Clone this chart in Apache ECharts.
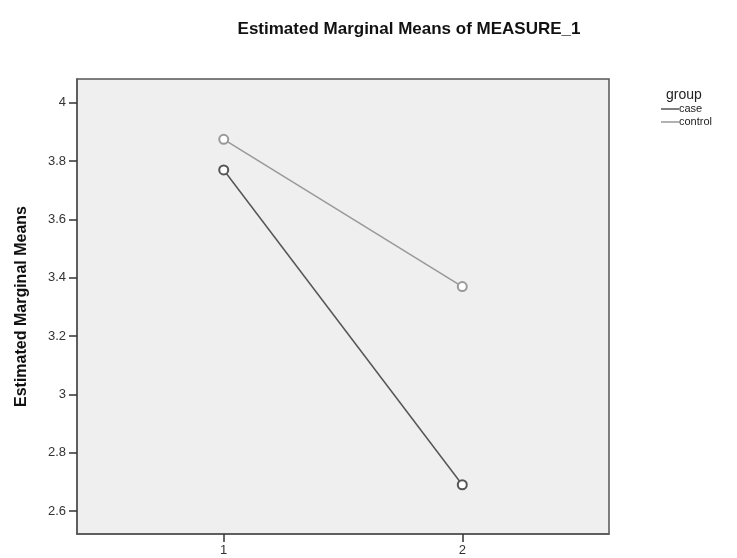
<!DOCTYPE html>
<html>
<head>
<meta charset="utf-8">
<script src="https://cdn.jsdelivr.net/npm/echarts@6/dist/echarts.min.js"></script>
<style>
  html, body { margin: 0; padding: 0; background: #fff; }
  #chart { width: 737px; height: 558px; }
</style>
</head>
<body>
<div id="chart"></div>
<script>
const measures = [1, 2];
const caseMeans = [3.77, 2.69];
const controlMeans = [3.875, 3.37];
const yTicks = [2.6, 2.8, 3, 3.2, 3.4, 3.6, 3.8, 4];

const font = 'Liberation Sans, Arial, sans-serif';

function toPairs(values) {
    return measures.map((m, i) => [m, values[i]]);
}

const lineOptions = {
    type: 'line',
    symbol: 'emptyCircle',
    symbolSize: 9,
    lineStyle: { width: 1.5 },
    itemStyle: { borderWidth: 1.5 }
};

let chartDom = document.getElementById('chart');
let myChart = echarts.init(chartDom);

let option = {
    animation: false,
    textStyle: { fontFamily: font },
    title: {
        text: 'Estimated Marginal Means of MEASURE_1',
        left: 404,
        top: 16,
        textAlign: 'center',
        textStyle: { fontSize: 17, fontWeight: 'bold', color: '#111', fontFamily: font }
    },
    graphic: [
        { type: 'text', left: 666, top: 88, style: { text: 'group', fontSize: 14, fill: '#222', fontFamily: font } },
        { type: 'line', shape: { x1: 661, y1: 109, x2: 679, y2: 109 }, style: { stroke: '#555', lineWidth: 1.5 } },
        { type: 'text', left: 679, top: 103, style: { text: 'case', fontSize: 11, fill: '#222', fontFamily: font } },
        { type: 'line', shape: { x1: 661, y1: 122, x2: 679, y2: 122 }, style: { stroke: '#999', lineWidth: 1.5 } },
        { type: 'text', left: 679, top: 116, style: { text: 'control', fontSize: 11, fill: '#222', fontFamily: font } }
    ],
    grid: {
        left: 77,
        top: 79,
        width: 532,
        height: 455,
        show: true,
        backgroundColor: '#efefef',
        borderColor: '#555',
        borderWidth: 1.5
    },
    xAxis: {
        type: 'value',
        min: 0.385,
        max: 2.615,
        splitLine: { show: false },
        axisLine: { show: true, lineStyle: { color: '#555', width: 1.5 } },
        axisTick: { show: true, customValues: measures, length: 8, lineStyle: { color: '#333', width: 1.5 } },
        axisLabel: { customValues: measures, color: '#333', fontSize: 13, margin: 10 }
    },
    yAxis: {
        type: 'value',
        min: 2.521,
        max: 4.082,
        name: 'Estimated Marginal Means',
        nameLocation: 'middle',
        nameGap: 47,
        nameTextStyle: { fontSize: 16, fontWeight: 'bold', color: '#111', fontFamily: font },
        splitLine: { show: false },
        axisLine: { show: true, lineStyle: { color: '#555', width: 1.5 } },
        axisTick: { show: true, customValues: yTicks, length: 8, lineStyle: { color: '#333', width: 1.5 } },
        axisLabel: { customValues: yTicks, color: '#333', fontSize: 13, margin: 11 }
    },
    series: [
        {
            name: 'case',
            data: toPairs(caseMeans),
            color: '#555',
            ...lineOptions
        },
        {
            name: 'control',
            data: toPairs(controlMeans),
            color: '#999',
            ...lineOptions
        }
    ]
};

option && myChart.setOption(option);
</script>
</body>
</html>
